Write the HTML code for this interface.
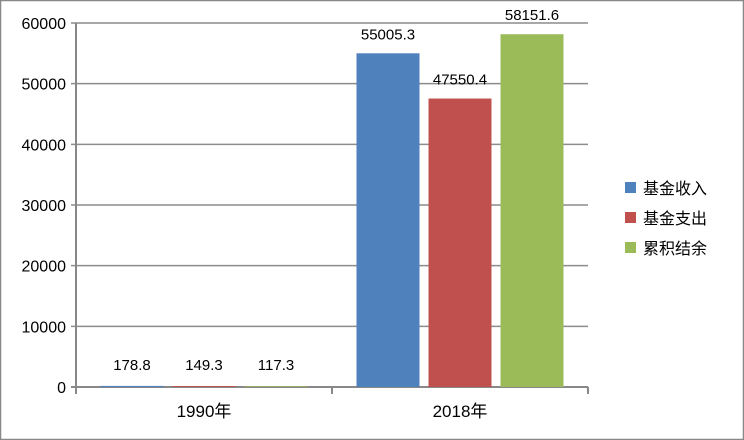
<!DOCTYPE html>
<html><head><meta charset="utf-8">
<style>
body{margin:0;background:#fff;}
svg{display:block;font-family:"Liberation Sans","Noto Sans CJK SC",sans-serif;}
</style></head>
<body>
<svg id="chart" width="744" height="440" viewBox="0 0 744 440">
<rect x="0.5" y="0.5" width="743" height="439" fill="#fff" stroke="#888" stroke-width="1.5"/>
<g id="grid"></g>
<g id="bars"></g>
<g id="labels"></g>
<g id="axes"></g>
<g id="legend"></g>
</svg>
<script>
const categories = ["1990年", "2018年"];
const seriesNames = ["基金收入", "基金支出", "累积结余"];
const income = [178.8, 55005.3];
const expense = [149.3, 47550.4];
const balance = [117.3, 58151.6];
const yTicks = [0, 10000, 20000, 30000, 40000, 50000, 60000];
const colors = ["#4f81bd", "#c0504d", "#9bbb59"];
const NS = "http://www.w3.org/2000/svg";
const x0 = 76, x1 = 588, yBase = 387, yTop = 23, yMax = 60000;
const y = v => yBase - (v / yMax) * (yBase - yTop);
const catW = (x1 - x0) / categories.length;
const barW = 63, gap = 9;
function mk(tag, attrs, parent, text) {
  const e = document.createElementNS(NS, tag);
  for (const k in attrs) e.setAttribute(k, attrs[k]);
  if (text !== undefined) e.textContent = text;
  document.getElementById(parent).appendChild(e);
  return e;
}
yTicks.forEach(t => {
  const l = mk("line", {x1: x0 - 5, x2: x1, y1: y(t), y2: y(t), stroke: t === 0 ? "#888" : "#8c8c8c", "stroke-width": t === 0 ? 2 : 1.5}, "grid");
  
  
  const tx = mk("text", {x: 66, y: y(t) + 6, "text-anchor": "end", "font-size": 16, fill: "#000"}, "axes", String(t));
  
  
});
const ya = mk("line", {x1: x0, x2: x0, y1: yTop, y2: yBase + 6, stroke: "#888", "stroke-width": 2}, "axes");


for (let i = 0; i <= categories.length; i++) {
  const tk = mk("line", {x1: x0 + i * catW, x2: x0 + i * catW, y1: yBase, y2: yBase + 7, stroke: "#888", "stroke-width": 2}, "axes");
  
  
}
const series = [income, expense, balance];
categories.forEach((c, ci) => {
  const cx = x0 + catW * (ci + 0.5);
  const start = cx - (3 * barW + 2 * gap) / 2;
  series.forEach((s, si) => {
    const bx = start + si * (barW + gap);
    const h = Math.max(yBase - y(s[ci]), 0);
    const r = mk("rect", {x: bx, y: yBase - h, width: barW, height: h, fill: colors[si]}, "bars");
    
    
    const ly = Math.min(y(s[ci]) - 14, yBase - 17);
    const t = mk("text", {x: bx + barW / 2, y: ly, "text-anchor": "middle", "font-size": 15, fill: "#000"}, "labels", s[ci].toFixed(1));
    
    
  });
  const cl = mk("text", {x: cx, y: 417, "text-anchor": "middle", "font-size": 17, fill: "#000"}, "axes", c);
  
  
});
seriesNames.forEach((n, i) => {
  const ly = 188 + i * 30;
  const sw = mk("rect", {x: 625, y: ly - 6, width: 11, height: 11, fill: colors[i]}, "legend");
  
  
  const t = mk("text", {x: 643, y: ly + 6, "font-size": 16, fill: "#000"}, "legend", n);
  
  
});
</script>
</body></html>
